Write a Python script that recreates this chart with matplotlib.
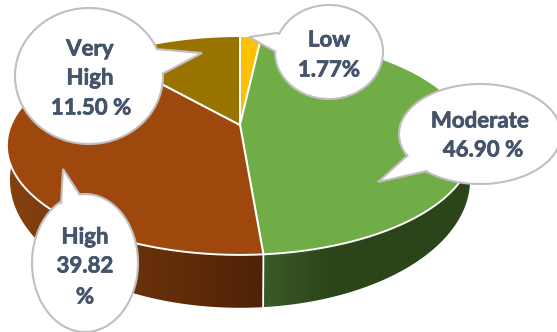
import numpy as np
import matplotlib
matplotlib.use("Agg")
import matplotlib.pyplot as plt
import matplotlib.patheffects as pe
from matplotlib.colors import to_rgb
from matplotlib.patches import Polygon

# Risk classes, clockwise from twelve o'clock
categories = ["Low", "Moderate", "High", "Very High"]
values = [1.77, 46.90, 39.82, 11.50]
label_lines = [["Low", "1.77%"], ["Moderate", "46.90 %"],
               ["High", "39.82", "%"], ["Very", "High", "11.50 %"]]
top_colors = ["#FFC000", "#70AD47", "#9E480E", "#997300"]
TEXT = "#44546A"
EDGE = "#BFBFBF"

# Wall shading per visible wedge: pixel range of the ramp and its end colours
wall_shades = {
    1: (263, 333, "#3C5B28", "#2C4419"),
    2: (15, 263, "#84400F", "#4F2206"),
}

# Perspective parameters of the upper and lower pie discs, in pixels
TILT = 0.187
UPPER = dict(cx=240.0, cy=125.0, rx=229.0, ry=105.6)
LOWER = dict(cx=240.0, cy=156.0, rx=226.0, ry=123.4)

# Callouts: ellipse centre and radii, tail base points and tip
callouts = {
    "Low": ((329, 52), 54, 47, (277, 33), (276, 52), (249, 37)),
    "Moderate": ((480, 134), 81, 50, (408, 155), (427, 171), (378, 182)),
    "High": ((85, 263), 53, 69, (80, 195), (61, 204), (63, 169)),
    "Very High": ((89, 76), 74, 68, (156, 49), (162, 74), (202, 53)),
}
text_rows = {
    "Low": [(329, 40), (329, 70)],
    "Moderate": [(480, 121), (483, 150)],
    "High": [(85, 237), (85, 266), (85, 297)],
    "Very High": [(90, 49), (90, 78), (91, 108)],
}


def project(theta, disc):
    """Map a clockwise angle from the top of the pie onto a tilted disc."""
    u, v = np.sin(theta), np.cos(theta)
    w = 1 + TILT * v
    return disc["cx"] + disc["rx"] * u / w, disc["cy"] - disc["ry"] * v / w


def balloon(centre, rx, ry, base_a, base_b, tip, n=160):
    """Ellipse outline that leaves at base_b, runs the long way round and closes through the tip."""
    cx, cy = centre
    a0 = np.arctan2((base_b[1] - cy) / ry, (base_b[0] - cx) / rx)
    a1 = np.arctan2((base_a[1] - cy) / ry, (base_a[0] - cx) / rx)
    if (a0 - a1) % (2 * np.pi) > (a1 - a0) % (2 * np.pi):
        span = (a1 - a0) % (2 * np.pi) - 2 * np.pi
    else:
        span = 2 * np.pi - (a0 - a1) % (2 * np.pi)
    t = a0 + span * np.linspace(0, 1, n)
    pts = np.column_stack([cx + rx * np.cos(t), cy + ry * np.sin(t)])
    return np.vstack([pts, base_a, tip, base_b])


fig = plt.figure(figsize=(5.57, 3.32), dpi=100)
ax = fig.add_axes([0, 0, 1, 1])
ax.axis("off")

fractions = np.array(values) / np.sum(values)
edges = np.concatenate([[0], np.cumsum(fractions)]) * 2 * np.pi

# Outer wall of the front-facing wedges, shaded by a horizontal ramp
for i, (x0, x1, c0, c1) in wall_shades.items():
    th = np.linspace(edges[i], edges[i + 1], 240)
    xt, yt = project(th, UPPER)
    xb, yb = project(th, LOWER)
    outline = np.vstack([np.column_stack([xt, yt]), np.column_stack([xb, yb])[::-1]])
    left_edge, right_edge = outline[:, 0].min() - 2, outline[:, 0].max() + 2
    xs = np.linspace(left_edge, right_edge, 600)
    frac = np.clip((xs - x0) / (x1 - x0), 0, 1)[None, :, None]
    ramp = np.array(to_rgb(c0)) + (np.array(to_rgb(c1)) - np.array(to_rgb(c0))) * frac
    shape = Polygon(outline, closed=True, transform=ax.transData, facecolor="none", edgecolor="none")
    ax.add_patch(shape)
    img = ax.imshow(ramp, extent=(left_edge, right_edge, 332, 0), aspect="auto",
                    interpolation="bilinear", zorder=1)
    img.set_clip_path(shape)

ax.set_xlim(0, 557)
ax.set_ylim(332, 0)

# Seam between the two visible walls
seam = edges[2]
sx = [project(seam, UPPER)[0], project(seam, LOWER)[0]]
sy = [project(seam, UPPER)[1], project(seam, LOWER)[1]]
ax.plot(sx, sy, color="white", lw=1.3, zorder=2, solid_capstyle="butt")

# Top face of the pie
for i, color in enumerate(top_colors):
    th = np.linspace(edges[i], edges[i + 1], 200)
    x, y = project(th, UPPER)
    verts = np.vstack([[UPPER["cx"], UPPER["cy"]], np.column_stack([x, y])])
    ax.add_patch(Polygon(verts, closed=True, facecolor=color, edgecolor="white", lw=1.4,
                         zorder=3, joinstyle="miter"))

# Callouts with their labels
for name, rows in zip(categories, label_lines):
    centre, rx, ry, base_a, base_b, tip = callouts[name]
    ax.add_patch(Polygon(balloon(centre, rx, ry, base_a, base_b, tip), closed=True,
                         facecolor="white", edgecolor=EDGE, lw=1.5, zorder=5, joinstyle="miter"))
    for line, (tx, ty) in zip(rows, text_rows[name]):
        ax.text(tx, ty, line, ha="center", va="center", color=TEXT, fontsize=16,
                family="Lato", fontweight="bold", zorder=6,
                path_effects=[pe.withStroke(linewidth=0.5, foreground=TEXT)])

fig.savefig("out.png", dpi=100, facecolor="white")
